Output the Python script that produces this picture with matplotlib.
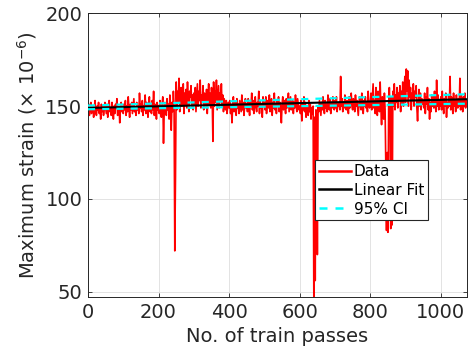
import matplotlib
matplotlib.use('Agg')
import matplotlib.pyplot as plt
import numpy as np

# Maximum strain (x 1e-6), one reading every 2 train passes
strain = [
    147,151,145,149,152,146,148,150,144,149,153,147,145,150,148,152,146,149,143,151,147,150,145,148,152,
    149,146,151,144,150,153,147,149,145,152,148,143,150,146,151,149,154,145,148,150,141,149,152,147,150,
    146,151,148,153,145,150,147,155,149,144,151,148,152,146,150,154,147,149,145,152,148,150,146,157,149,
    151,147,153,145,150,148,156,146,152,149,144,151,155,147,150,146,153,148,158,145,151,149,143,152,148,
    150,146,153,148,144,151,155,130,147,152,149,145,154,148,151,143,156,149,137,152,147,158,150,72,112,
    163,148,158,152,165,147,156,160,150,154,162,146,157,151,159,149,163,153,147,158,155,161,150,156,148,
    157,151,160,147,155,162,150,158,153,164,149,156,152,161,148,157,154,150,159,146,155,162,151,157,149,
    160,155,131,163,150,158,152,164,148,155,161,149,157,153,162,150,156,147,154,151,148,153,146,150,152,
    149,153,146,151,141,150,155,147,152,148,145,154,149,151,146,153,150,147,156,148,152,145,150,154,149,
    151,147,154,149,145,152,150,157,148,153,146,151,155,149,147,152,150,158,146,153,149,151,144,155,150,
    152,148,155,146,151,153,149,156,147,150,154,145,152,149,157,148,151,146,153,150,155,147,152,149,141,
    151,155,148,153,150,146,154,149,152,157,147,151,155,148,150,153,146,152,149,156,150,147,154,151,148,
    150,146,153,142,151,148,155,147,152,144,150,149,145,153,147,151,143,149,146,150,47,144,56,148,145,
    70,150,147,153,149,145,152,148,155,150,146,153,149,151,147,156,150,148,154,146,152,149,155,151,148,
    153,149,155,147,151,150,152,148,166,150,154,147,152,149,156,151,148,153,150,146,155,149,152,157,150,
    148,154,151,147,156,150,153,149,145,152,155,150,148,157,151,146,153,150,155,149,152,147,158,151,149,
    151,157,148,155,162,149,153,146,160,150,145,158,152,147,163,149,140,155,151,143,157,148,118,83,125,
    82,150,160,146,84,155,86,158,150,162,148,156,152,160,149,157,153,161,147,158,151,163,150,159,166,
    152,170,158,169,150,164,155,160,148,157,153,162,150,158,155,161,149,142,152,159,150,157,148,154,151,
    153,149,157,146,155,151,160,148,154,143,152,147,156,150,155,149,158,151,147,164,150,156,148,153,150,
    155,148,158,151,146,154,150,157,144,152,149,156,150,166,148,155,151,146,157,150,153,147,156,151,149,
    154,150,165,148,156,151,147,155,150,157,149,153,150,
]
pass_step = 2

fit_x = [0, 1074]
fit_y = [149.0, 153.7]
ci_upper = [150.3, 156.4]
ci_lower = [148.3, 151.3]

xticks = [0, 200, 400, 600, 800, 1000]
yticks = [50, 100, 150, 200]

passes = np.arange(len(strain)) * pass_step

txt = '#262626'
fig = plt.figure(figsize=(4.68, 3.56), dpi=100)
ax = fig.add_axes([0.188, 0.165, 0.8098, 0.7976])

ax.plot(passes, strain, color='#ff0000', lw=1.2, label='Data', zorder=2)
ax.plot(fit_x, fit_y, color='black', lw=1.5, label='Linear Fit', zorder=3)
ax.plot(fit_x, ci_upper, color='#00ffff', lw=1.6, ls=(0, (3.2, 3.2)), label='95% CI', zorder=4)
ax.plot(fit_x, ci_lower, color='#00ffff', lw=1.6, ls=(0, (3.2, 3.2)), zorder=4)

ax.set_xlim(0, 1074)
ax.set_ylim(47, 200)
ax.set_xticks(xticks)
ax.set_yticks(yticks)
ax.grid(True, color='#dedede', lw=0.6)
ax.set_axisbelow(True)
ax.tick_params(direction='in', length=3, width=0.6, top=True, right=True,
               labelsize=14, colors=txt, pad=4)
for s in ax.spines.values():
    s.set_color(txt)
    s.set_linewidth(0.7)

ax.set_xlabel('No. of train passes', fontsize=14, color=txt)
ax.set_ylabel(r'Maximum strain ($\times$ 10$^{-6}$)', fontsize=14, color=txt)
ax.yaxis.set_label_coords(-0.13, 0.5)

leg = ax.legend(loc='upper left', bbox_to_anchor=(0.599, 0.483), borderaxespad=0,
                fontsize=11, frameon=True, fancybox=False, edgecolor=txt, framealpha=1,
                handlelength=2.1, handletextpad=0.2, borderpad=0.25, labelspacing=0.25)
leg.get_frame().set_linewidth(0.8)
for h in leg.get_lines():
    h.set_linewidth(1.8)

fig.savefig('out.png', dpi=100)
